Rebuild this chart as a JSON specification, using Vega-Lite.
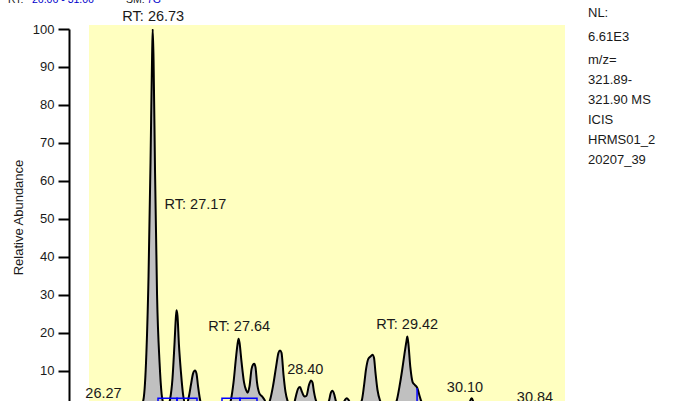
{
  "$schema": "https://vega.github.io/schema/vega-lite/v6.json",
  "width": 476,
  "height": 372,
  "autosize": {"type": "none"},
  "padding": {"left": 89, "top": 29, "right": 109, "bottom": 0},
  "background": "white",
  "config": {"view": {"stroke": null}, "font": "Liberation Sans"},
  "datasets": {
    "trace": [
      {"rt": 26.057, "abundance": 0.5}, {"rt": 26.490, "abundance": 0.5},
      {"rt": 26.596, "abundance": 0.8}, {"rt": 26.628, "abundance": 2}, {"rt": 26.659, "abundance": 12},
      {"rt": 26.686, "abundance": 35}, {"rt": 26.707, "abundance": 65}, {"rt": 26.723, "abundance": 92},
      {"rt": 26.730, "abundance": 100}, {"rt": 26.739, "abundance": 92}, {"rt": 26.755, "abundance": 62},
      {"rt": 26.776, "abundance": 30}, {"rt": 26.803, "abundance": 12}, {"rt": 26.824, "abundance": 4},
      {"rt": 26.844, "abundance": 1.5}, {"rt": 26.871, "abundance": 0.8},
      {"rt": 26.892, "abundance": 1}, {"rt": 26.913, "abundance": 2.5}, {"rt": 26.939, "abundance": 8},
      {"rt": 26.960, "abundance": 17}, {"rt": 26.976, "abundance": 24.5}, {"rt": 26.983, "abundance": 26},
      {"rt": 26.992, "abundance": 24.5}, {"rt": 27.007, "abundance": 17}, {"rt": 27.029, "abundance": 9.5},
      {"rt": 27.050, "abundance": 4}, {"rt": 27.071, "abundance": 1.5},
      {"rt": 27.092, "abundance": 1.5}, {"rt": 27.114, "abundance": 3.5}, {"rt": 27.135, "abundance": 6.5},
      {"rt": 27.156, "abundance": 9.3}, {"rt": 27.177, "abundance": 10.1}, {"rt": 27.193, "abundance": 9.3},
      {"rt": 27.209, "abundance": 6}, {"rt": 27.230, "abundance": 2.5}, {"rt": 27.251, "abundance": 0.8},
      {"rt": 27.388, "abundance": 0.5},
      {"rt": 27.536, "abundance": 1}, {"rt": 27.557, "abundance": 2.5}, {"rt": 27.584, "abundance": 7},
      {"rt": 27.610, "abundance": 13.5}, {"rt": 27.626, "abundance": 17}, {"rt": 27.637, "abundance": 18.5},
      {"rt": 27.647, "abundance": 17.5}, {"rt": 27.668, "abundance": 12.5}, {"rt": 27.695, "abundance": 7},
      {"rt": 27.716, "abundance": 5}, {"rt": 27.734, "abundance": 4.3}, {"rt": 27.753, "abundance": 6},
      {"rt": 27.774, "abundance": 10.5}, {"rt": 27.790, "abundance": 11.7}, {"rt": 27.803, "abundance": 11.9},
      {"rt": 27.816, "abundance": 11}, {"rt": 27.832, "abundance": 7}, {"rt": 27.856, "abundance": 4.2},
      {"rt": 27.885, "abundance": 3.3}, {"rt": 27.911, "abundance": 2.4}, {"rt": 27.938, "abundance": 1},
      {"rt": 27.969, "abundance": 2.3}, {"rt": 28.001, "abundance": 6}, {"rt": 28.033, "abundance": 11},
      {"rt": 28.059, "abundance": 14.8}, {"rt": 28.075, "abundance": 15.4}, {"rt": 28.091, "abundance": 14.8},
      {"rt": 28.112, "abundance": 9}, {"rt": 28.133, "abundance": 4.5}, {"rt": 28.154, "abundance": 2.2},
      {"rt": 28.181, "abundance": 1},
      {"rt": 28.223, "abundance": 1.5}, {"rt": 28.244, "abundance": 3.5}, {"rt": 28.265, "abundance": 5.3},
      {"rt": 28.286, "abundance": 5.8}, {"rt": 28.307, "abundance": 4.5}, {"rt": 28.334, "abundance": 3.3},
      {"rt": 28.355, "abundance": 3.5}, {"rt": 28.381, "abundance": 6.3}, {"rt": 28.403, "abundance": 7.5},
      {"rt": 28.418, "abundance": 7}, {"rt": 28.434, "abundance": 4.5}, {"rt": 28.455, "abundance": 2.2},
      {"rt": 28.476, "abundance": 1.5},
      {"rt": 28.561, "abundance": 1}, {"rt": 28.593, "abundance": 2.2}, {"rt": 28.609, "abundance": 4},
      {"rt": 28.628, "abundance": 4.8}, {"rt": 28.646, "abundance": 4}, {"rt": 28.664, "abundance": 2.2},
      {"rt": 28.688, "abundance": 1},
      {"rt": 28.741, "abundance": 1.5}, {"rt": 28.762, "abundance": 2.4}, {"rt": 28.780, "abundance": 2.8},
      {"rt": 28.799, "abundance": 2.4}, {"rt": 28.820, "abundance": 1.5},
      {"rt": 28.899, "abundance": 1}, {"rt": 28.938, "abundance": 2.2}, {"rt": 28.962, "abundance": 6},
      {"rt": 28.984, "abundance": 10.5}, {"rt": 29.008, "abundance": 13.2}, {"rt": 29.031, "abundance": 13.8},
      {"rt": 29.052, "abundance": 14.3}, {"rt": 29.068, "abundance": 13.5}, {"rt": 29.084, "abundance": 9.5},
      {"rt": 29.105, "abundance": 5}, {"rt": 29.132, "abundance": 2.2}, {"rt": 29.163, "abundance": 1},
      {"rt": 29.279, "abundance": 1}, {"rt": 29.308, "abundance": 2.2}, {"rt": 29.338, "abundance": 6},
      {"rt": 29.364, "abundance": 10}, {"rt": 29.390, "abundance": 14.5}, {"rt": 29.412, "abundance": 18},
      {"rt": 29.420, "abundance": 19.1}, {"rt": 29.430, "abundance": 17.5}, {"rt": 29.452, "abundance": 11},
      {"rt": 29.477, "abundance": 7}, {"rt": 29.501, "abundance": 6.3}, {"rt": 29.526, "abundance": 5.5},
      {"rt": 29.549, "abundance": 3.5}, {"rt": 29.565, "abundance": 2.2}, {"rt": 29.596, "abundance": 0.8},
      {"rt": 30.030, "abundance": 0.5}, {"rt": 30.072, "abundance": 1.5}, {"rt": 30.100, "abundance": 2.8},
      {"rt": 30.125, "abundance": 1.5}, {"rt": 30.167, "abundance": 0.5},
      {"rt": 30.822, "abundance": 1.2}, {"rt": 30.853, "abundance": 1.8}, {"rt": 30.885, "abundance": 1.2},
      {"rt": 31.086, "abundance": 0.5}
    ],
    "labels": [
      {"rt": 26.736, "pos": 102.1, "label": "RT: 26.73"},
      {"rt": 27.182, "pos": 52.5, "label": "RT: 27.17"},
      {"rt": 27.644, "pos": 20.4, "label": "RT: 27.64"},
      {"rt": 28.342, "pos": 9.2, "label": "28.40"},
      {"rt": 29.419, "pos": 21.0, "label": "RT: 29.42"},
      {"rt": 30.029, "pos": 4.6, "label": "30.10"},
      {"rt": 30.769, "pos": 1.9, "label": "30.84"},
      {"rt": 26.210, "pos": 2.8, "label": "26.27"}
    ],
    "baselines": [
      {"start": 26.786, "end": 26.987},
      {"start": 26.987, "end": 27.198},
      {"start": 27.462, "end": 27.652},
      {"start": 27.652, "end": 27.832}
    ]
  },
  "encoding": {
    "x": {"type": "quantitative", "scale": {"domain": [26.057, 31.086], "nice": false, "zero": false}, "axis": null},
    "y": {"type": "quantitative", "scale": {"domain": [2.1, 100], "nice": false, "zero": false},
      "axis": {
        "values": [10, 20, 30, 40, 50, 60, 70, 80, 90, 100],
        "offset": 20, "grid": false,
        "domainColor": "black", "domainWidth": 2,
        "tickColor": "black", "tickWidth": 2, "tickSize": 11,
        "labelFontSize": 13, "labelColor": "#1a1a1a", "labelPadding": 4,
        "title": "Relative Abundance", "titleFontSize": 13, "titleFontWeight": "normal",
        "titleColor": "#1a1a1a", "titlePadding": 7, "titleY": 188
      }
    }
  },
  "layer": [
    {
      "data": {"values": [{}]},
      "mark": {"type": "rect", "color": "#ffffc0"},
      "encoding": {
        "x": {"datum": 26.057}, "x2": {"datum": 31.086},
        "y": {"datum": 101.06}, "y2": {"datum": 2.1}
      }
    },
    {
      "data": {"name": "trace"},
      "mark": {"type": "area", "color": "#c0c0c0", "clip": true, "interpolate": "monotone"},
      "encoding": {"x": {"field": "rt"}, "y": {"field": "abundance"}}
    },
    {
      "data": {"name": "trace"},
      "mark": {"type": "line", "color": "black", "strokeWidth": 2, "clip": true, "interpolate": "monotone"},
      "encoding": {"x": {"field": "rt"}, "y": {"field": "abundance"}}
    },
    {
      "data": {"name": "baselines"},
      "mark": {"type": "rect", "fill": null, "stroke": "#0000ff", "strokeWidth": 1.5, "clip": true},
      "encoding": {"x": {"field": "start"}, "x2": {"field": "end"}, "y": {"datum": 2.85}, "y2": {"datum": 1.0}}
    },
    {
      "data": {"values": [{}]},
      "mark": {"type": "rule", "color": "#0000ff", "strokeWidth": 1.5, "clip": true},
      "encoding": {"x": {"datum": 29.523}, "y": {"datum": 5.5}, "y2": {"datum": 2.1}}
    },
    {
      "data": {"name": "labels"},
      "mark": {"type": "text", "align": "center", "baseline": "alphabetic", "fontSize": 14.5, "color": "#1a1a1a"},
      "encoding": {"x": {"field": "rt"}, "y": {"field": "pos"}, "text": {"field": "label"}}
    },
    {
      "data": {"values": [{}]},
      "mark": {"type": "text", "align": "left", "baseline": "alphabetic", "fontSize": 13, "color": "#1a1a1a", "lineHeight": 24},
      "encoding": {"x": {"datum": 31.329}, "y": {"datum": 103.16}, "text": {"value": ["NL:", "6.61E3"]}}
    },
    {
      "data": {"values": [{}]},
      "mark": {"type": "text", "align": "left", "baseline": "alphabetic", "fontSize": 13, "color": "#1a1a1a", "lineHeight": 20},
      "encoding": {"x": {"datum": 31.329}, "y": {"datum": 90.79}, "text": {"value": ["m/z=", "321.89-", "321.90  MS", "ICIS", "HRMS01_2", "20207_39"]}}
    },
    {
      "data": {"values": [{}]},
      "mark": {"type": "text", "align": "left", "baseline": "alphabetic", "fontSize": 10.5, "color": "#1a1a1a"},
      "encoding": {"x": {"datum": 25.201}, "y": {"datum": 106.9}, "text": {"value": "RT:"}}
    },
    {
      "data": {"values": [{}]},
      "mark": {"type": "text", "align": "left", "baseline": "alphabetic", "fontSize": 10.5, "color": "#0000cc"},
      "encoding": {"x": {"datum": 25.455}, "y": {"datum": 106.9}, "text": {"value": "26.06 - 31.06"}}
    },
    {
      "data": {"values": [{}]},
      "mark": {"type": "text", "align": "left", "baseline": "alphabetic", "fontSize": 10.5, "color": "#1a1a1a"},
      "encoding": {"x": {"datum": 26.448}, "y": {"datum": 106.9}, "text": {"value": "SM:"}}
    },
    {
      "data": {"values": [{}]},
      "mark": {"type": "text", "align": "left", "baseline": "alphabetic", "fontSize": 10.5, "color": "#0000cc"},
      "encoding": {"x": {"datum": 26.670}, "y": {"datum": 106.9}, "text": {"value": "7G"}}
    }
  ]
}
